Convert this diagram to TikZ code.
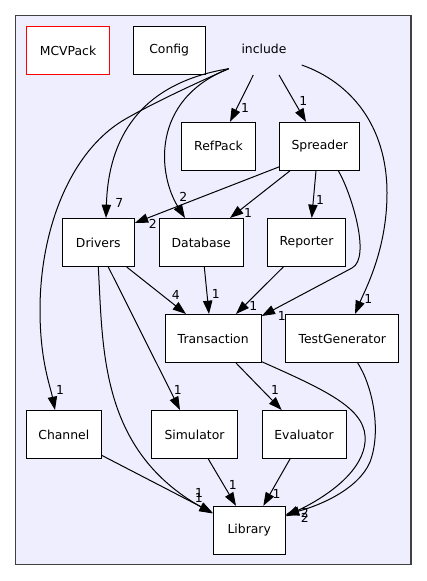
\documentclass[tikz,border=0pt]{standalone}
\usepackage{fontspec}
\setsansfont{DejaVu Sans}
\usepackage{tikz}
\usetikzlibrary{arrows.meta}
\definecolor{clusterbg}{HTML}{EEEEFF}
\definecolor{clusterln}{HTML}{404040}
\definecolor{mainred}{HTML}{FF0000}

\begin{document}
\begin{tikzpicture}[
  x=0.75pt,y=-0.75pt,
  font=\sffamily\fontsize{9.3}{11}\selectfont,
  dirbox/.style={draw=black,fill=white,line width=0.75pt,minimum height=36pt,inner sep=0pt,align=center},
  lbl/.style={inner sep=0pt},
  >={Triangle[length=10pt,width=7pt]},edge/.style={->,line width=0.75pt}
]
\useasboundingbox (0,0) rectangle (427,581);
\draw[draw=clusterln,fill=clusterbg,line width=1pt] (15.7,15.7) rectangle (411,564.3);

\node[dirbox,draw=mainred,minimum width=62pt] (mcv) at (68,50.5) {MCVPack};
\node[dirbox,minimum width=54pt] (cfg) at (169.2,50.5) {Config};
\node[minimum width=68pt,minimum height=36pt,inner sep=0pt] (incl) at (264,49.3) {include};
\node[dirbox,minimum width=56pt] (ref) at (218.5,146.3) {RefPack};
\node[dirbox,minimum width=60pt] (spr) at (319.8,146.3) {Spreader};
\node[dirbox,minimum width=54pt] (drv) at (98.3,242.5) {Drivers};
\node[dirbox,minimum width=63pt] (db) at (201.2,242.5) {Database};
\node[dirbox,minimum width=59pt] (rep) at (306.5,242.5) {Reporter};
\node[dirbox,minimum width=72pt] (trn) at (213.2,338.5) {Transaction};
\node[dirbox,minimum width=85pt] (tst) at (342.3,338.5) {TestGenerator};
\node[dirbox,minimum width=56pt] (chn) at (63.8,434.5) {Channel};
\node[dirbox,minimum width=64pt] (sim) at (194.5,434.5) {Simulator};
\node[dirbox,minimum width=63pt] (evl) at (304,434.5) {Evaluator};
\node[dirbox,minimum width=54pt] (lib) at (249.2,530.3) {Library};

% from include
\draw[edge] ([shift={(-10.7,25.7)}]incl.center) -- ([shift={(11.5,0)}]ref.north) node[lbl,shift={(15,-14.3)}]{1};
\draw[edge] ([shift={(15,25.7)}]incl.center) -- ([shift={(-13.8,0)}]spr.north) node[lbl,shift={(-2.7,-20.6)}]{1};
\draw[edge] ([shift={(-35.3,19.4)}]incl.center) .. controls (130,85) and (108,150) .. ([shift={(7.7,0)}]drv.north) node[lbl,shift={(13.3,-15)}]{7};
\draw[edge] ([shift={(-35.3,19.4)}]incl.center) .. controls (150,100) and (158,175) .. ([shift={(-16.2,0)}]db.north) node[lbl,shift={(-1.7,-21)}]{2};
\draw[edge] ([shift={(-35.3,19.4)}]incl.center) .. controls (185,88) and (150,105) .. (126.7,118.3)
  .. controls (70,150) and (40,230) .. (40,310) .. controls (40,360) and (50,385) .. ([shift={(-8.8,0)}]chn.north) node[lbl,shift={(5,-20.3)}]{1};
\draw[edge] ([shift={(37.7,15.7)}]incl.center) .. controls (350,82) and (387,125) .. (387,193)
  .. controls (387,250) and (365,290) .. ([shift={(12.7,0)}]tst.north) node[lbl,shift={(13.3,-14.7)}]{1};

% from Spreader
\draw[edge] ([shift={(0,-4)}]spr.south west) -- ([shift={(0,5)}]drv.north east) node[lbl,shift={(18,1)}]{2};
\draw[edge] ([shift={(-29.8,0)}]spr.south) -- ([shift={(28.8,0)}]db.north) node[lbl,shift={(18,-5)}]{1};
\draw[edge] ([shift={(-3.8,0)}]spr.south) -- ([shift={(5.2,0)}]rep.north) node[lbl,shift={(8.3,-17.6)}]{1};
\draw[edge] ([shift={(18.5,0)}]spr.south) .. controls (350,190) and (372,257.5) .. (352,268) -- ([shift={(0,2)}]trn.north east) node[lbl,shift={(20,0)}]{1};

% second row
\draw[edge] ([shift={(28.4,0)}]drv.south) -- ([shift={(-27.2,0)}]trn.north) node[lbl,shift={(-10.3,-18.7)}]{4};
\draw[edge] ([shift={(10,0)}]drv.south) -- ([shift={(-14.5,0)}]sim.north) node[lbl,shift={(-2.3,-20.3)}]{1};
\draw[edge] (drv.south) .. controls (103,350) and (100,450) .. ([shift={(0,7.7)}]lib.north west) node[lbl,shift={(-14,-15.7)}]{1};
\draw[edge] ([shift={(3.1,0)}]db.south) -- ([shift={(-4.2,0)}]trn.north) node[lbl,shift={(6.7,-19.7)}]{1};
\draw[edge] ([shift={(-23.2,0)}]rep.south) -- ([shift={(22.8,0)}]trn.north) node[lbl,shift={(17.3,-8)}]{1};

% third row
\draw[edge] ([shift={(22.8,0)}]trn.south) -- ([shift={(-22.3,0)}]evl.north) node[lbl,shift={(-6.7,-19.6)}]{1};
\draw[edge] ([shift={(0,-1.3)}]trn.south east) .. controls (330,392) and (368,410) .. (365,442)
  .. controls (362,475) and (320,500) .. ([shift={(0,10.4)}]lib.north east) node[lbl,shift={(19,2)}]{2};
\draw[edge] ([shift={(15.4,0)}]tst.south) .. controls (372,385) and (382,430) .. (370,462)
  .. controls (358,490) and (318,506) .. ([shift={(0,8.7)}]lib.north east) node[lbl,shift={(19,-2)}]{2};

% into Library
\draw[edge] ([shift={(0,-3.7)}]chn.south east) -- ([shift={(0,7)}]lib.north west) node[lbl,shift={(-13.7,-20)}]{1};
\draw[edge] ([shift={(13.8,0)}]sim.south) -- ([shift={(-13.2,0)}]lib.north) node[lbl,shift={(-3.3,-21.3)}]{1};
\draw[edge] ([shift={(-14,0)}]evl.south) -- ([shift={(14.1,0)}]lib.north) node[lbl,shift={(13.3,-12.3)}]{1};
\end{tikzpicture}
\end{document}
